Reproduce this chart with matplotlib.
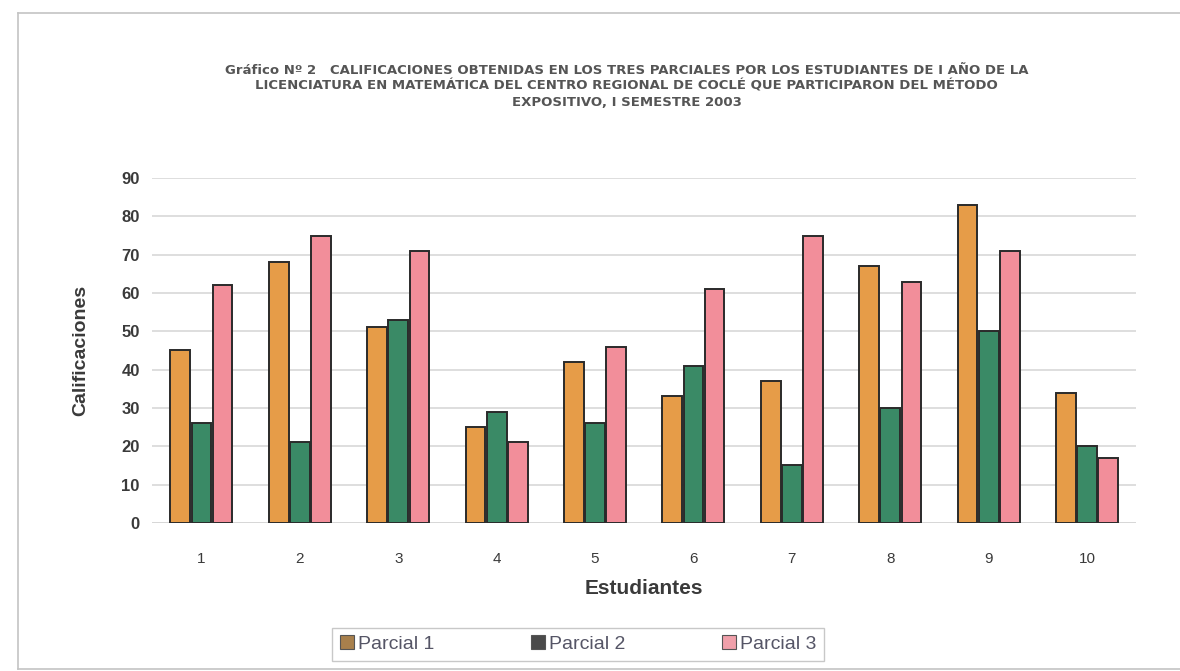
import numpy as np
import matplotlib.pyplot as plt
from matplotlib.patches import Rectangle
from matplotlib.lines import Line2D

plt.rcParams["font.family"] = ["Liberation Sans", "DejaVu Sans"]

# Datos: calificaciones por estudiante en cada parcial
estudiantes = ["1", "2", "3", "4", "5", "6", "7", "8", "9", "10"]
parcial_1 = [45, 68, 51, 25, 42, 33, 37, 67, 83, 34]
parcial_2 = [26, 21, 53, 29, 26, 41, 15, 30, 50, 20]
parcial_3 = [62, 75, 71, 21, 46, 61, 75, 63, 71, 17]
series_names = ["Parcial 1", "Parcial 2", "Parcial 3"]
y_ticks = [0, 10, 20, 30, 40, 50, 60, 70, 80, 90]

title = ("Gráfico Nº 2   CALIFICACIONES OBTENIDAS EN LOS TRES PARCIALES POR LOS ESTUDIANTES DE I AÑO DE LA\n"
         "LICENCIATURA EN MATEMÁTICA DEL CENTRO REGIONAL DE COCLÉ QUE PARTICIPARON DEL MÉTODO\n"
         "EXPOSITIVO, I SEMESTRE 2003")

bar_colors = ["#E69C48", "#3A8A66", "#F28E9A"]
legend_colors = ["#A8804C", "#4A4A4A", "#F0A0AA"]
text_gray = "#3A3A3A"

fig = plt.figure(figsize=(11.8, 6.71), dpi=100)
fig.patch.set_facecolor("white")
ax = fig.add_axes([0.129, 0.2206, 0.834, 0.5141])

x = np.arange(len(estudiantes))
width = 0.2
offsets = [-0.215, 0.0, 0.215]
for vals, off, col in zip([parcial_1, parcial_2, parcial_3], offsets, bar_colors):
    ax.bar(x + off, vals, width=width, color=col, edgecolor="#2A2A2A",
           linewidth=1.4, zorder=3)

ax.set_xlim(-0.5, len(estudiantes) - 0.5)
ax.set_ylim(0, 90)
ax.set_yticks(y_ticks)
ax.set_yticklabels([str(v) for v in y_ticks], fontsize=12, color=text_gray,
                   fontweight="bold")
ax.set_xticks(x)
ax.set_xticklabels(estudiantes, fontsize=11, color=text_gray)
ax.tick_params(axis="both", length=0)
ax.tick_params(axis="y", pad=9)
ax.tick_params(axis="x", pad=21)
ax.grid(axis="y", color="#D8D8D8", linewidth=1.2, zorder=0)
for spine in ax.spines.values():
    spine.set_visible(False)
ax.axhline(0, color="#CFCFCF", linewidth=1.2, zorder=1)

ax.set_xlabel("Estudiantes", fontsize=15, fontweight="bold", color=text_gray,
              labelpad=9)
ax.set_ylabel("Calificaciones", fontsize=14, fontweight="bold", color=text_gray)
ax.yaxis.set_label_coords(-0.064, 0.5)

fig.text(0.531, 0.905, title, ha="center", va="top", fontsize=9.5,
         family="DejaVu Sans", fontweight="bold", color="#555555",
         linespacing=1.3)

# Leyenda en recuadro inferior
handles = [Rectangle((0, 0), 1, 1, facecolor=c, edgecolor="#555555", linewidth=0.8)
           for c in legend_colors]
leg = fig.legend(handles, series_names, loc="center", bbox_to_anchor=(0.49, 0.04),
                 ncol=3, fontsize=14, frameon=True, handlelength=0.7,
                 handleheight=0.7, handletextpad=0.2, columnspacing=5.0,
                 borderpad=0.4, borderaxespad=0.0)
leg.get_frame().set_edgecolor("#BBBBBB")
leg.get_frame().set_linewidth(1.0)
leg.get_frame().set_boxstyle("square", pad=0.0)
for t in leg.get_texts():
    t.set_color("#555566")

# Marco exterior: borde superior, izquierdo e inferior
frame_kw = dict(transform=fig.transFigure, color="#C4C4C4", linewidth=1.2)
fig.add_artist(Line2D([0.015, 1.0], [0.981, 0.981], **frame_kw))
fig.add_artist(Line2D([0.015, 0.015], [0.003, 0.981], **frame_kw))
fig.add_artist(Line2D([0.015, 1.0], [0.003, 0.003], **frame_kw))

fig.savefig("out.png", dpi=100, facecolor="white")
